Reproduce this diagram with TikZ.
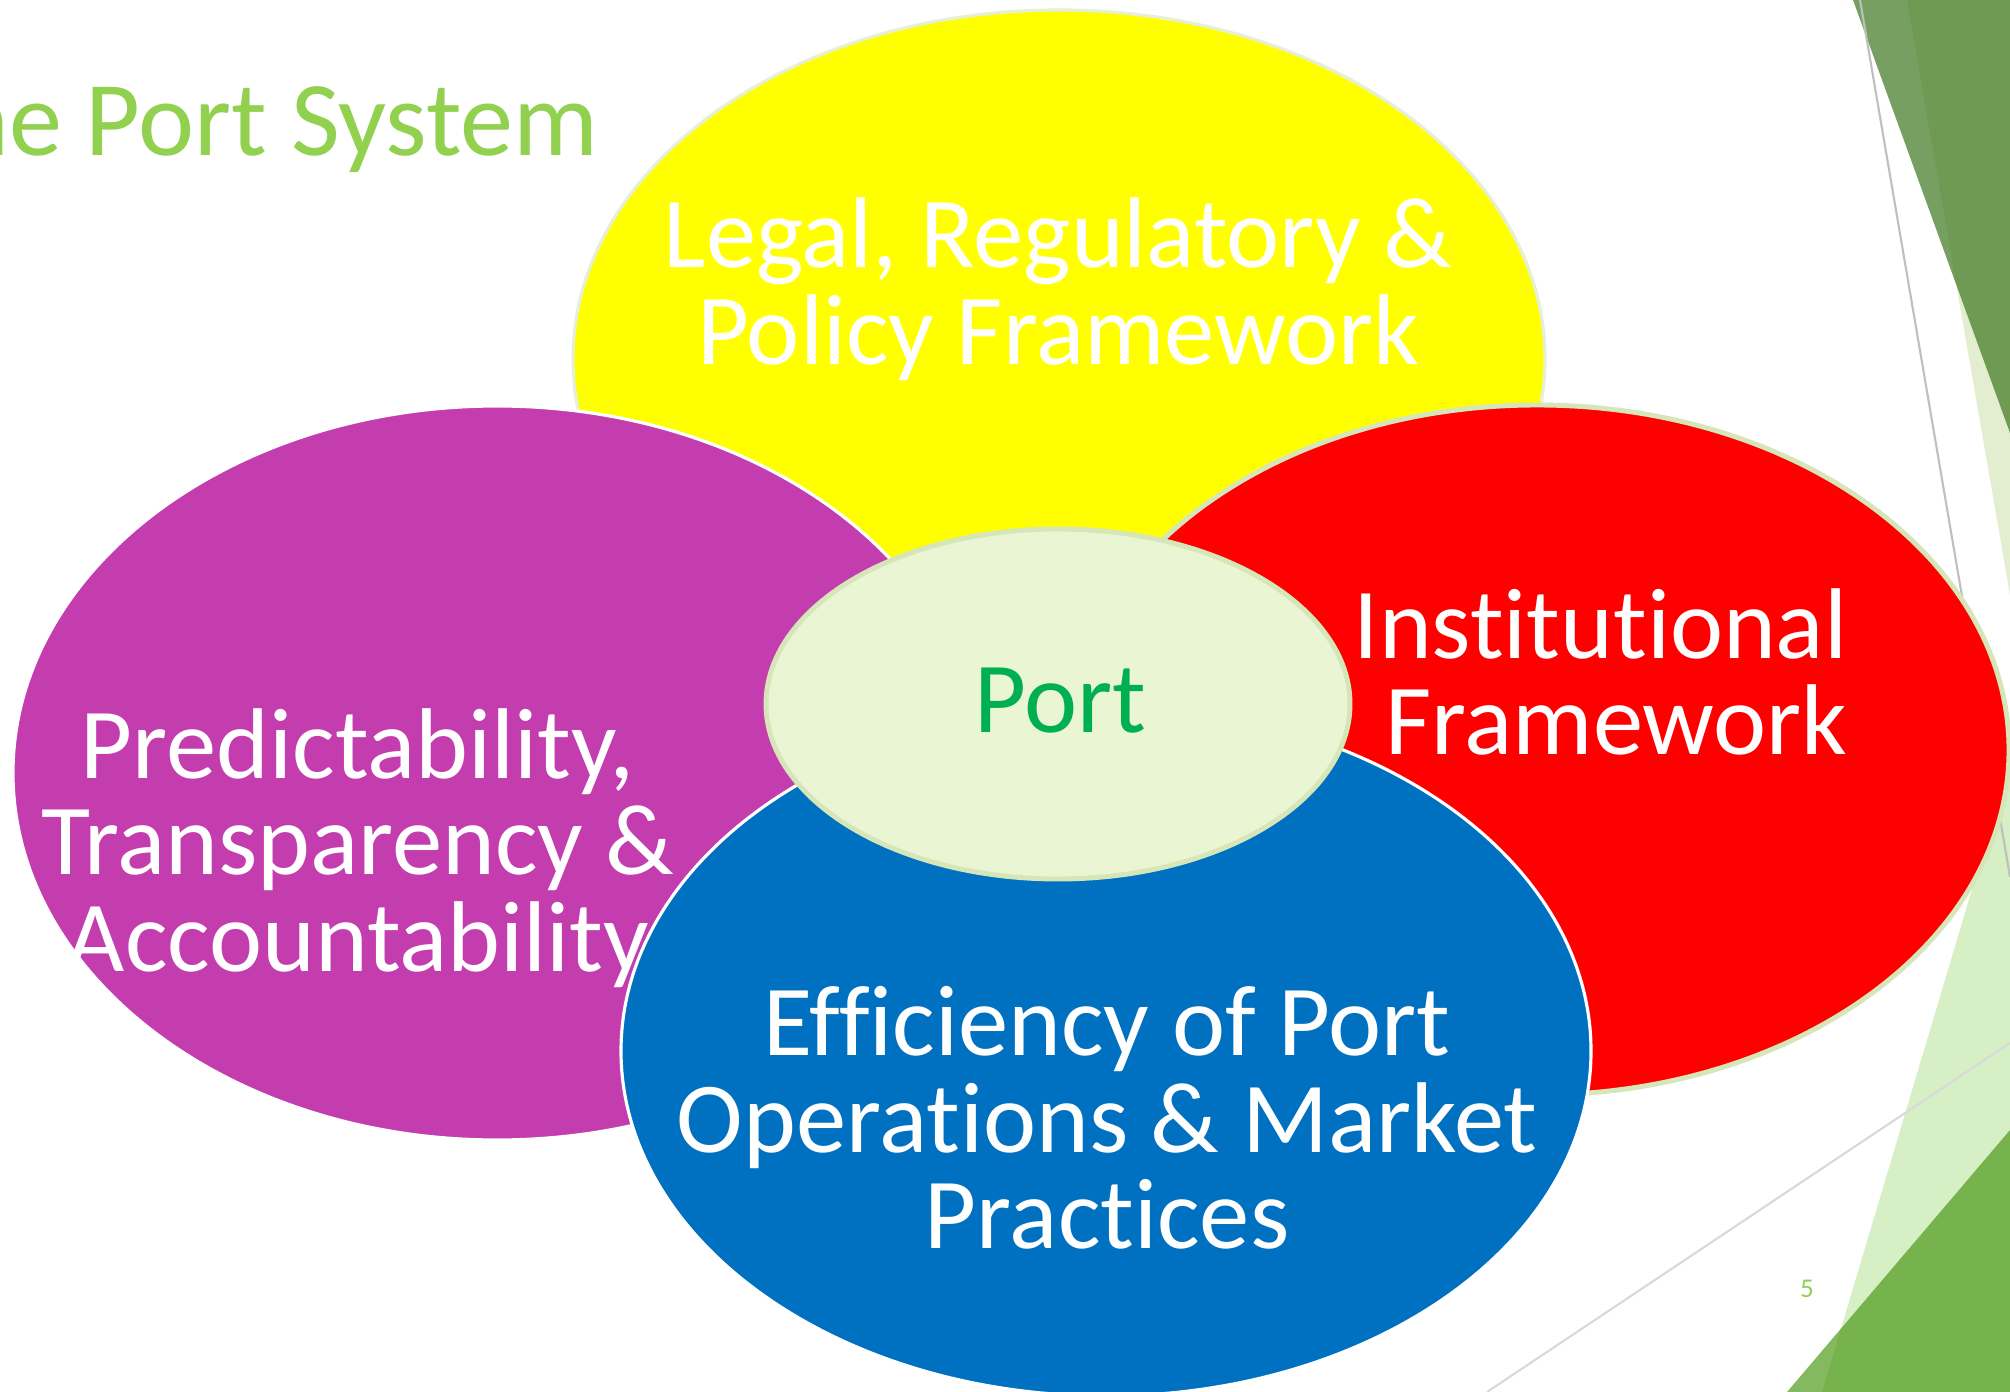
\documentclass[tikz,border=0pt]{standalone}
\usepackage{fontspec}
\setmainfont{Carlito}[Ligatures=NoCommon]
\usepackage{xcolor}
\usepackage{tikz}

\definecolor{titlegreen}{HTML}{92D050}
\definecolor{portgreen}{HTML}{00B050}
\definecolor{portfill}{HTML}{EAF5D3}
\definecolor{rimgreen}{HTML}{D7E6B8}
\definecolor{ppyellow}{HTML}{FFFF00}
\definecolor{ppmagenta}{HTML}{C33DAE}
\definecolor{ppred}{HTML}{FF0000}
\definecolor{ppblue}{HTML}{0070C0}
\definecolor{palegreen}{HTML}{E2EECF}
\definecolor{leafgreen}{HTML}{3E771F}
\definecolor{grassgreen}{HTML}{499712}

\tikzset{
  bubble/.style={line width=0.9pt},
  bigtext/.style={text=white,font=\fontsize{28.6}{27.5}\selectfont,align=center,inner sep=0pt}
}

\begin{document}
\begin{tikzpicture}[x=0.01cm,y=-0.01cm]
    \useasboundingbox (0,0) rectangle (2010,1392);
    \fill[white] (0,0) rectangle (2010,1392);
    \fill[palegreen] (1907,0) -- (2010,0) -- (2010,595) -- cycle;
    \fill[leafgreen,opacity=0.7] (1853,0) -- (2010,0) -- (2010,433) -- cycle;
    \fill[palegreen!95!green] (2010,762) -- (1822,1392) -- (2010,1392) -- cycle;
    \fill[grassgreen,opacity=0.67] (2010,1130) -- (1787,1392) -- (2010,1392) -- cycle;
    \draw[black!25,line width=0.6pt] (1860,0) -- (2010,877);
    \draw[black!15,line width=0.6pt] (2010,1043) -- (1487,1392);
    \node[anchor=base east,text=titlegreen,font=\fontsize{30.2}{36}\selectfont,inner sep=0pt] (title) at (599,156) {he Port System};
    \filldraw[bubble,fill=ppyellow,draw=rimgreen!60] (1059,359) ellipse [x radius=486,y radius=349];
    \filldraw[bubble,fill=ppmagenta,draw=white] (497,773) ellipse [x radius=484,y radius=367];
    \filldraw[bubble,fill=ppred,draw=rimgreen,line width=1.4pt] (1537,750) ellipse [x radius=472,y radius=345];
    \filldraw[bubble,fill=ppblue,draw=white] (1106,1051) ellipse [x radius=485,y radius=345];
    \filldraw[fill=portfill,draw=rimgreen,line width=1.4pt] (1058,704) ellipse [x radius=292,y radius=175];
    \node[bigtext] (legal) at (1058,289) {Legal, Regulatory \&\\Policy Framework};
    \node[bigtext] (predict) at (358,848) {Predictability,\\Transparency \&\\Accountability};
    \node[bigtext,align=right,anchor=east] (inst) at (1848,672) {Institutional\\Framework};
    \node[bigtext] (effic) at (1107,1118) {Efficiency of Port\\Operations \& Market\\Practices};
    \node[bigtext,text=portgreen,anchor=base] (port) at (1060,732) {Port};
    \node[anchor=base,text=titlegreen,font=\fontsize{7.7}{9}\selectfont,inner sep=0pt] (pagenum) at (1807,1297) {5};
\end{tikzpicture}
\end{document}
